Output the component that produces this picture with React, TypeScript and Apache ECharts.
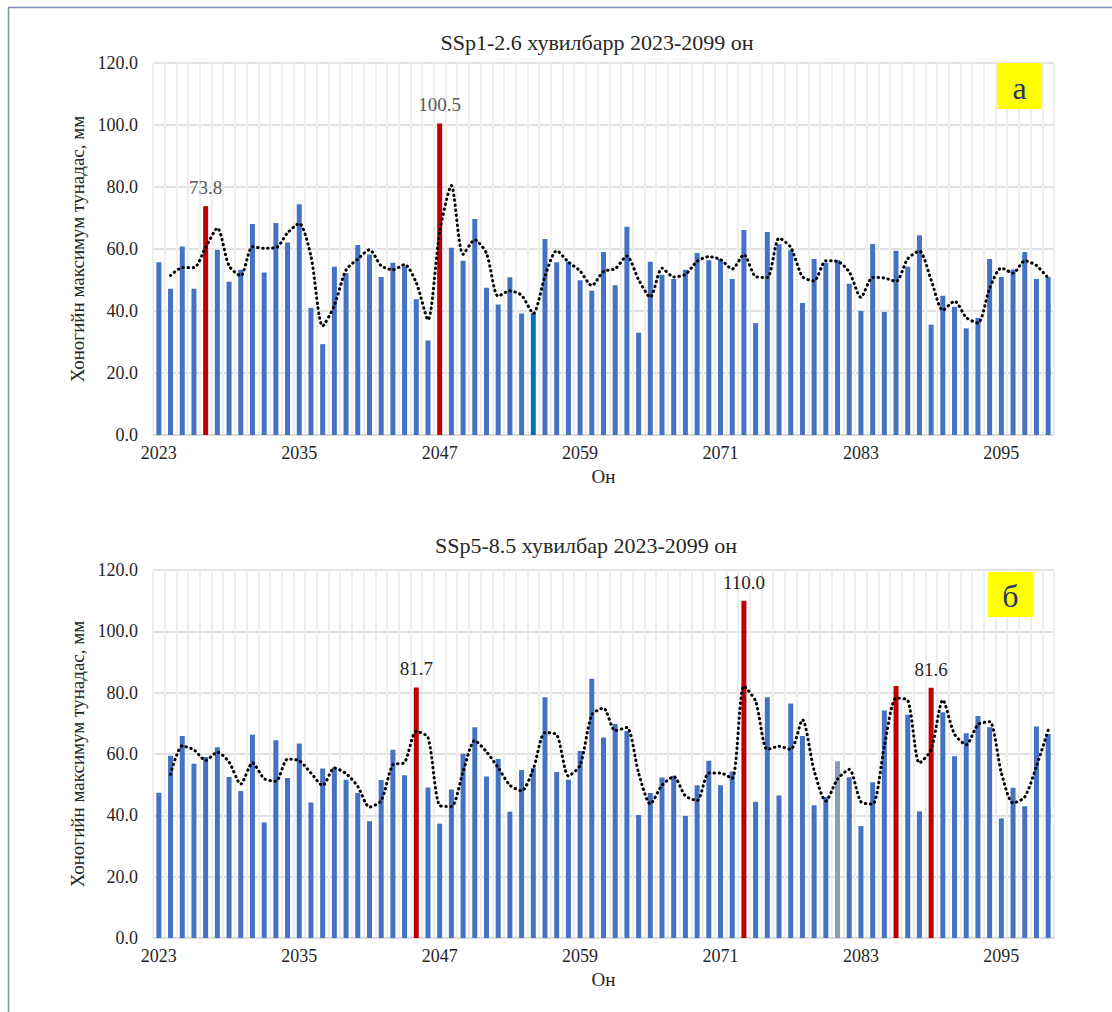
import React, { useEffect, useRef } from "react";
import * as echarts from "echarts";

// Categories: years 2023..2099
const years: string[] = Array.from({ length: 77 }, (_, i) => String(2023 + i));
const xTickEvery = 12; // 2023, 2035, 2047, ...
const yMin = 0;
const yMax = 120;
const yStep = 20;

// SSP1-2.6 daily maximum precipitation, mm
const ssp126: number[] = [
  55.7, 47.2, 60.8, 47.2, 73.8, 59.7, 49.4, 53.3, 68.1, 52.4, 68.4, 62.1, 74.4, 41.0, 29.3, 54.3, 52.2, 61.3, 58.2, 51.0,
  55.6, 54.4, 43.8, 30.5, 100.5,
  60.4, 56.2, 69.7, 47.5, 42.1, 50.9, 39.2, 39.2, 63.2, 55.7, 55.9, 49.9, 46.5, 59.0, 48.3, 67.2, 33.0, 55.9, 51.7, 50.3,
  53.3, 58.7, 56.4, 56.8, 50.3, 66.1,
  36.1, 65.5, 61.5, 59.6, 42.6, 56.8, 55.6, 56.4, 48.8, 40.0, 61.6, 39.7, 59.4, 54.3, 64.4, 35.6, 44.9, 41.4, 34.4, 37.8,
  56.8, 51.0, 53.4, 59.0, 50.3, 51.0,
];

// SSP5-8.5 daily maximum precipitation, mm
const ssp585: number[] = [
  47.4, 59.4, 65.9, 56.8, 59.0, 62.2, 52.5, 47.9, 66.3, 37.7, 64.5, 52.2, 63.4, 44.2, 55.3, 55.6, 51.6, 47.3, 38.1, 51.5,
  61.4, 53.1, 81.7, 49.1, 37.3,
  48.4, 60.1, 68.7, 52.7, 58.4, 41.2, 54.8, 55.4, 78.5, 54.1, 51.6, 61.0, 84.5, 65.4, 69.8, 67.5, 40.1, 47.3, 52.3, 52.9,
  39.8, 49.8, 57.8, 49.8, 54.3, 110.0,
  44.4, 78.5, 46.5, 76.5, 65.9, 43.3, 46.0, 57.6, 52.4, 36.5, 50.8, 74.2, 82.2, 72.8, 41.3, 81.6, 73.6, 59.3, 66.8, 72.4,
  68.7, 39.0, 49.0, 43.0, 69.0, 66.5,
];

const ssp126Red: string[] = ["2027", "2047"];
const ssp126Labeled: string[] = ["2027", "2047"];
const ssp126Special: Record<string, string> = { "2055": "#0070C0" };

const ssp585Red: string[] = ["2045", "2073", "2086", "2089"];
const ssp585Labeled: string[] = ["2045", "2073", "2089"];
const ssp585Special: Record<string, string> = { "2081": "#8E9DB5" };

const title126 = "SSp1-2.6 хувилбарр 2023-2099 он";
const title585 = "SSp5-8.5 хувилбар 2023-2099 он";
const yName = "Хоногийн максимум тунадас, мм";
const xName = "Он";
const panel126 = "а";
const panel585 = "б";

const SERIF = "'Liberation Serif', 'Times New Roman', serif";
const BLUE = "#4472C4";
const RED = "#C00000";
const TEXT = "#262626";

// Excel's "2-period moving average" trendline, derived from the bars
function movingAverage2(v: number[]): (number | string)[] {
  return v.map((x, i) => (i === 0 ? "-" : Math.round(((v[i - 1] + x) / 2) * 100) / 100));
}

function barData(
  vals: number[],
  red: string[],
  labeled: string[],
  special: Record<string, string>,
  labelColor: string
) {
  return vals.map((v, i) => {
    const y = years[i];
    const color = red.includes(y) ? RED : special[y] ?? BLUE;
    const item: any = { value: v, itemStyle: { color } };
    if (labeled.includes(y)) {
      item.label = {
        show: true,
        position: "top",
        distance: 9,
        formatter: (p: any) => Number(p.value).toFixed(1),
        color: labelColor,
        fontSize: 19,
        fontFamily: SERIF,
      };
    }
    return item;
  });
}

function xAxisFor(gridIndex: number) {
  return {
    type: "category",
    gridIndex,
    data: years,
    boundaryGap: true,
    axisLine: { show: true, lineStyle: { color: "#D9D9D9", width: 1.5 } },
    axisTick: { show: false },
    axisLabel: {
      interval: xTickEvery - 1,
      color: TEXT,
      fontSize: 18,
      fontFamily: SERIF,
      margin: 9,
    },
    splitLine: { show: true, interval: 0, lineStyle: { color: "#EEEEEE", width: 2 } },
    name: xName,
    nameLocation: "middle",
    nameGap: 32,
    nameTextStyle: { color: TEXT, fontSize: 19, fontFamily: SERIF },
  };
}

function yAxisFor(gridIndex: number) {
  return {
    type: "value",
    gridIndex,
    min: yMin,
    max: yMax,
    interval: yStep,
    axisLine: { show: false },
    axisTick: { show: false },
    axisLabel: {
      color: TEXT,
      fontSize: 18,
      fontFamily: SERIF,
      margin: 15,
      formatter: (v: number) => v.toFixed(1),
    },
    splitLine: { show: true, lineStyle: { color: "#D9D9D9", width: 1.5 } },
    name: yName,
    nameLocation: "middle",
    nameGap: 66,
    nameRotate: 90,
    nameTextStyle: { color: TEXT, fontSize: 19, fontFamily: SERIF },
  };
}

function maLine(vals: number[], idx: number) {
  return {
    type: "line",
    xAxisIndex: idx,
    yAxisIndex: idx,
    data: movingAverage2(vals),
    symbol: "none",
    smooth: 0.25,
    z: 5,
    lineStyle: { color: "#000000", width: 3, type: [0.5, 4.5], cap: "round" },
  };
}

export default function App() {
  const ref = useRef<HTMLDivElement>(null);

  useEffect(() => {
    if (!ref.current) return;
    const chart = echarts.init(ref.current, undefined, { renderer: "svg" });
    const option: any = {
      animation: false,
      backgroundColor: "#FFFFFF",
      grid: [
        { left: 153, width: 901, top: 63, height: 372 },
        { left: 153, width: 901, top: 570, height: 368 },
      ],
      xAxis: [xAxisFor(0), xAxisFor(1)],
      yAxis: [yAxisFor(0), yAxisFor(1)],
      series: [
        {
          type: "bar",
          xAxisIndex: 0,
          yAxisIndex: 0,
          barWidth: 5,
          data: barData(ssp126, ssp126Red, ssp126Labeled, ssp126Special, "#595959"),
        },
        maLine(ssp126, 0),
        {
          type: "bar",
          xAxisIndex: 1,
          yAxisIndex: 1,
          barWidth: 5,
          data: barData(ssp585, ssp585Red, ssp585Labeled, ssp585Special, TEXT),
        },
        maLine(ssp585, 1),
      ],
      graphic: [
        {
          type: "line",
          shape: { x1: 8.5, y1: 7, x2: 8.5, y2: 1012 },
          style: { stroke: "#7F8CB8", lineWidth: 1.5 },
        },
        {
          type: "line",
          shape: { x1: 8, y1: 7.5, x2: 1112, y2: 7.5 },
          style: { stroke: "#7F8CB8", lineWidth: 1.5 },
        },
        {
          type: "text",
          x: 597,
          y: 42,
          style: {
            text: title126,
            align: "center",
            verticalAlign: "middle",
            fontSize: 22,
            fontFamily: SERIF,
            fill: TEXT,
          },
        },
        {
          type: "text",
          x: 586,
          y: 545,
          style: {
            text: title585,
            align: "center",
            verticalAlign: "middle",
            fontSize: 22,
            fontFamily: SERIF,
            fill: TEXT,
          },
        },
        {
          type: "rect",
          shape: { x: 997, y: 63, width: 45, height: 46 },
          style: { fill: "#FFFF00" },
          z: 10,
        },
        {
          type: "text",
          x: 1019.5,
          y: 88,
          z: 11,
          style: {
            text: panel126,
            align: "center",
            verticalAlign: "middle",
            fontSize: 32,
            fontFamily: SERIF,
            fill: "#1F3864",
          },
        },
        {
          type: "rect",
          shape: { x: 988, y: 572, width: 45, height: 45 },
          style: { fill: "#FFFF00" },
          z: 10,
        },
        {
          type: "text",
          x: 1010.5,
          y: 596,
          z: 11,
          style: {
            text: panel585,
            align: "center",
            verticalAlign: "middle",
            fontSize: 32,
            fontFamily: SERIF,
            fill: "#1F3864",
          },
        },
      ],
    };
    chart.setOption(option);
    return () => chart.dispose();
  }, []);

  return (
    <div
      ref={ref}
      style={{ position: "absolute", left: 0, top: 0, width: 1112, height: 1012 }}
    />
  );
}
